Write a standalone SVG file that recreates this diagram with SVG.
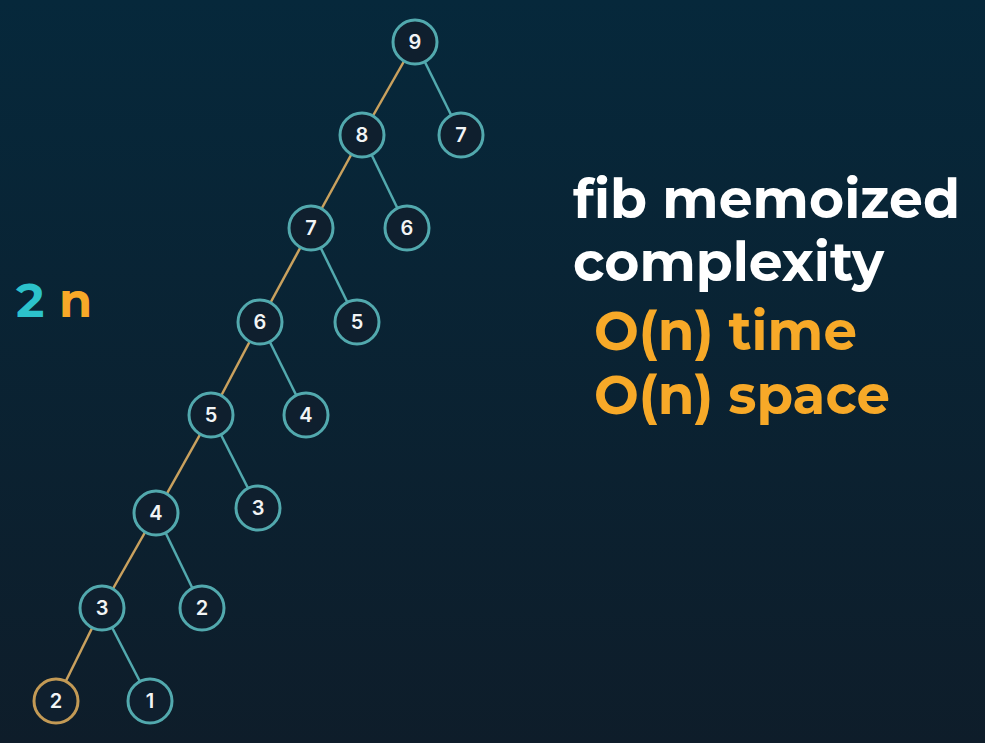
<svg xmlns="http://www.w3.org/2000/svg" width="985" height="743" viewBox="0 0 985 743">
<defs>
<linearGradient id="bg" x1="0" y1="0" x2="0" y2="1">
<stop offset="0" stop-color="#06283b"/>
<stop offset="1" stop-color="#0e1d2a"/>
</linearGradient>
</defs>
<style>
.n circle{fill:#0f1f2e;stroke:#52a9ae;stroke-width:3}
.n text{fill:#f2f4f5;font-family:Inter,"Open Sans",sans-serif;font-size:20px;font-weight:600;text-anchor:middle}
.e{stroke:#52a9ae;stroke-width:2.5}
.o{stroke:#c9a15e;stroke-width:2.5}
.big{font-family:Montserrat,Inter,"Open Sans",sans-serif;font-weight:700;font-size:54px}
</style>
<rect width="985" height="743" fill="url(#bg)"/>
<g id="connectors">
<line class="o" x1="415" y1="42" x2="362" y2="135"/>
<line class="e" x1="415" y1="42" x2="461" y2="135"/>
<line class="o" x1="362" y1="135" x2="311" y2="228"/>
<line class="e" x1="362" y1="135" x2="407" y2="228"/>
<line class="o" x1="311" y1="228" x2="260" y2="322"/>
<line class="e" x1="311" y1="228" x2="357" y2="322"/>
<line class="o" x1="260" y1="322" x2="211" y2="415"/>
<line class="e" x1="260" y1="322" x2="306" y2="415"/>
<line class="o" x1="211" y1="415" x2="156" y2="513"/>
<line class="e" x1="211" y1="415" x2="258" y2="508"/>
<line class="o" x1="156" y1="513" x2="102" y2="608"/>
<line class="e" x1="156" y1="513" x2="202" y2="608"/>
<line class="o" x1="102" y1="608" x2="56" y2="701"/>
<line class="e" x1="102" y1="608" x2="150" y2="701"/>
</g>
<g id="n9" class="n"><circle cx="415" cy="42" r="22"/><text x="415" y="49">9</text></g>
<g id="n8" class="n"><circle cx="362" cy="135" r="22"/><text x="362" y="142">8</text></g>
<g id="n7r" class="n"><circle cx="461" cy="135" r="22"/><text x="461" y="142">7</text></g>
<g id="n7" class="n"><circle cx="311" cy="228" r="22"/><text x="311" y="235">7</text></g>
<g id="n6r" class="n"><circle cx="407" cy="228" r="22"/><text x="407" y="235">6</text></g>
<g id="n6" class="n"><circle cx="260" cy="322" r="22"/><text x="260" y="329">6</text></g>
<g id="n5r" class="n"><circle cx="357" cy="322" r="22"/><text x="357" y="329">5</text></g>
<g id="n5" class="n"><circle cx="211" cy="415" r="22"/><text x="211" y="422">5</text></g>
<g id="n4r" class="n"><circle cx="306" cy="415" r="22"/><text x="306" y="422">4</text></g>
<g id="n4" class="n"><circle cx="156" cy="513" r="22"/><text x="156" y="520">4</text></g>
<g id="n3r" class="n"><circle cx="258" cy="508" r="22"/><text x="258" y="515">3</text></g>
<g id="n3" class="n"><circle cx="102" cy="608" r="22"/><text x="102" y="615">3</text></g>
<g id="n2r" class="n"><circle cx="202" cy="608" r="22"/><text x="202" y="615">2</text></g>
<g id="n2" class="n"><circle cx="56" cy="701" r="22" style="stroke:#c39a55"/><text x="56" y="708">2</text></g>
<g id="n1" class="n"><circle cx="150" cy="701" r="22"/><text x="150" y="708">1</text></g>
<g id="label2n">
<text x="16" y="317" font-family="Montserrat,Inter,'Open Sans',sans-serif" font-weight="700" font-size="48" fill="#2cc2cb">2</text>
<text x="59" y="317" font-family="Montserrat,Inter,'Open Sans',sans-serif" font-weight="700" font-size="48" fill="#f7a928">n</text>
</g>
<g id="title">
<text class="big" x="573" y="218" fill="#ffffff" textLength="387" lengthAdjust="spacingAndGlyphs">fib memoized</text>
<text class="big" x="573" y="281" fill="#ffffff" textLength="311" lengthAdjust="spacingAndGlyphs">complexity</text>
<text class="big" x="594" y="350" fill="#f7a928" textLength="263" lengthAdjust="spacingAndGlyphs">O(n) time</text>
<text class="big" x="594" y="414" fill="#f7a928" textLength="296" lengthAdjust="spacingAndGlyphs">O(n) space</text>
</g>
</svg>
